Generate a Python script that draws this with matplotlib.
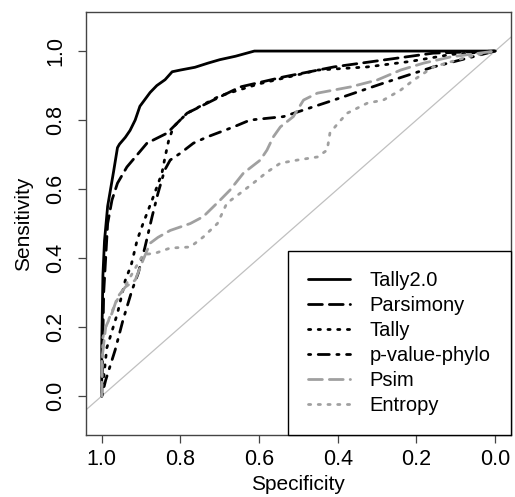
import numpy as np
import matplotlib
matplotlib.use("Agg")
import matplotlib.pyplot as plt

plt.rcParams['font.family'] = ['Liberation Sans', 'DejaVu Sans']

# ROC curves: (specificity, sensitivity)
tally2_spec = [1.0, 1.0, 0.997, 0.993, 0.985, 0.979, 0.97, 0.96, 0.955, 0.94, 0.928, 0.915,
               0.903, 0.89, 0.877, 0.86, 0.839, 0.821, 0.80, 0.763, 0.73, 0.70, 0.66, 0.612, 0.0]
tally2_sens = [0.0, 0.15, 0.35, 0.45, 0.55, 0.59, 0.65, 0.72, 0.73, 0.75, 0.77, 0.80,
               0.84, 0.86, 0.88, 0.90, 0.917, 0.94, 0.945, 0.953, 0.965, 0.975, 0.985, 1.0, 1.0]

pars_spec = [1.0, 0.995, 0.985, 0.974, 0.96, 0.936, 0.885, 0.834, 0.783, 0.716, 0.648,
             0.538, 0.41, 0.284, 0.157, 0.0]
pars_sens = [0.0, 0.3, 0.5, 0.568, 0.617, 0.664, 0.733, 0.762, 0.82, 0.858, 0.896,
             0.925, 0.954, 0.974, 0.994, 1.0]

tally_spec = [1.0, 0.987, 0.96, 0.94, 0.925, 0.91, 0.895, 0.872, 0.847, 0.839, 0.83,
              0.818, 0.783, 0.70, 0.60, 0.45, 0.325, 0.215, 0.113, 0.0]
tally_sens = [0.0, 0.14, 0.24, 0.336, 0.38, 0.452, 0.50, 0.568, 0.646, 0.693, 0.74,
              0.78, 0.82, 0.87, 0.905, 0.945, 0.954, 0.97, 0.99, 1.0]

pvp_spec = [1.0, 0.99, 0.966, 0.946, 0.923, 0.907, 0.89, 0.872, 0.857, 0.84, 0.826,
            0.80, 0.767, 0.732, 0.665, 0.623, 0.538, 0.41, 0.284, 0.157, 0.0]
pvp_sens = [0.0, 0.046, 0.133, 0.22, 0.307, 0.357, 0.432, 0.52, 0.588, 0.655, 0.684,
            0.704, 0.733, 0.751, 0.78, 0.80, 0.81, 0.858, 0.907, 0.954, 1.0]

psim_spec = [1.0, 1.0, 0.99, 0.974, 0.96, 0.94, 0.915, 0.895, 0.877, 0.857, 0.826,
             0.775, 0.742, 0.699, 0.674, 0.64, 0.597, 0.58, 0.564, 0.546, 0.513,
             0.487, 0.452, 0.368, 0.30, 0.24, 0.182, 0.113, 0.0]
psim_sens = [0.0, 0.10, 0.20, 0.24, 0.287, 0.316, 0.336, 0.394, 0.443, 0.46, 0.48,
             0.50, 0.52, 0.568, 0.597, 0.646, 0.684, 0.713, 0.751, 0.78, 0.81,
             0.858, 0.878, 0.896, 0.916, 0.945, 0.965, 0.983, 1.0]

ent_spec = [1.0, 0.997, 0.99, 0.974, 0.96, 0.935, 0.895, 0.864, 0.826, 0.775, 0.742,
            0.706, 0.682, 0.648, 0.615, 0.58, 0.546, 0.503, 0.452, 0.427, 0.42, 0.40,
            0.376, 0.325, 0.284, 0.24, 0.207, 0.157, 0.07, 0.0]
ent_sens = [0.0, 0.17, 0.20, 0.245, 0.28, 0.33, 0.41, 0.414, 0.429, 0.432, 0.461,
            0.50, 0.559, 0.588, 0.617, 0.649, 0.675, 0.684, 0.693, 0.713, 0.762, 0.79,
            0.82, 0.849, 0.858, 0.887, 0.916, 0.954, 0.983, 1.0]

labels = ["Tally2.0", "Parsimony", "Tally", "p-value-phylo", "Psim", "Entropy"]

fig = plt.figure(figsize=(5.15, 4.97), dpi=100)
ax = fig.add_axes([0.167, 0.1247, 0.825, 0.851])

# chance line
d = np.array([1.2, -0.2])
ax.plot(d, 1 - d, color="#c0c0c0", lw=0.9, zorder=1)

gray = "#a0a0a0"
styles = [
    (tally2_spec, tally2_sens, "black", "-"),
    (pars_spec, pars_sens, "black", (0, (5, 2.5))),
    (tally_spec, tally_sens, "black", (0, (0.8, 2.7))),
    (pvp_spec, pvp_sens, "black", (0, (0.8, 2.7, 4, 2.7))),
    (psim_spec, psim_sens, gray, (0, (5, 2.5))),
    (ent_spec, ent_sens, gray, (0, (0.8, 2.7))),
]
for (sx, sy, c, ls), lab in zip(styles, labels):
    ax.plot(sx, sy, color=c, ls=ls, lw=2.0, label=lab,
            dash_capstyle="round", solid_capstyle="round")

ax.set_xlim(1.04, -0.04)
ax.set_ylim(-0.113, 1.113)
ticks = [0.0, 0.2, 0.4, 0.6, 0.8, 1.0]
ax.set_xticks(ticks)
ax.set_yticks(ticks)
ax.set_xticklabels(["%.1f" % t for t in ticks], fontsize=15.5)
ax.set_yticklabels(["%.1f" % t for t in ticks], fontsize=15.5, rotation=90, va="center")
ax.tick_params(direction="out", length=6, width=0.9, color="#444444")
ax.tick_params(axis="x", pad=4)
ax.tick_params(axis="y", pad=8)
for s in ax.spines.values():
    s.set_color("#444444")
    s.set_linewidth(1.0)

ax.set_xlabel("Specificity", fontsize=15, labelpad=4)
ax.set_ylabel("Sensitivity", fontsize=15, labelpad=9)

leg = ax.legend(loc="lower right", bbox_to_anchor=(1.0, 0.0), borderaxespad=0,
                fontsize=14.5, handlelength=2.05, handletextpad=1.0, labelspacing=0.3,
                borderpad=1.0, fancybox=False, framealpha=1, edgecolor="black")
leg.get_frame().set_linewidth(1.0)

fig.savefig("out.png", dpi=100)
